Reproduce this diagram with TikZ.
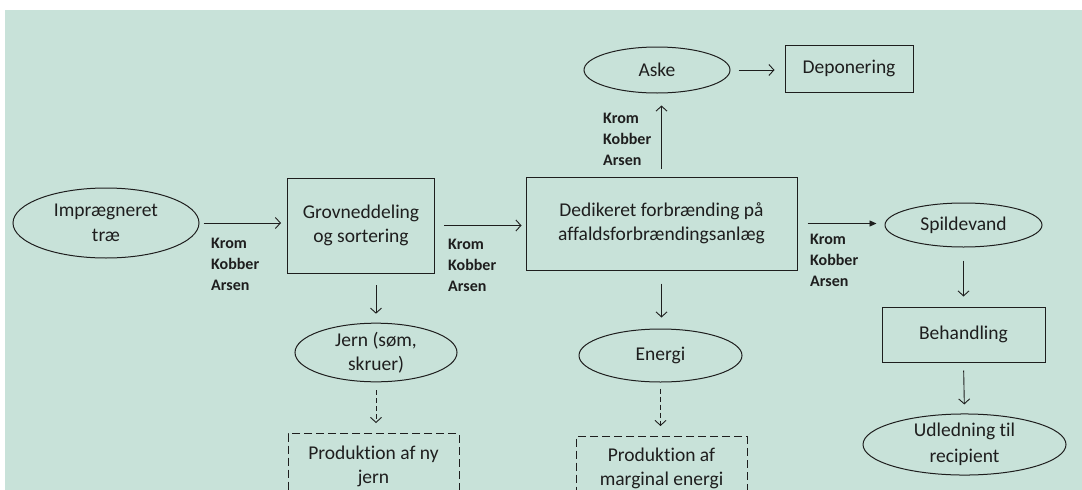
\documentclass[tikz,border=0pt]{standalone}
\usepackage{fontspec}
\setmainfont{Carlito}[Ligatures=NoCommon]
\usetikzlibrary{shapes.geometric,arrows.meta}
\definecolor{bg}{RGB}{200,226,217}
\definecolor{ink}{RGB}{30,30,30}
\begin{document}
\begin{tikzpicture}[x=1pt,y=-1pt,
  every node/.style={font=\fontsize{19.5}{24.5}\selectfont, align=center, text=ink},
  ell/.style={draw=ink, ellipse, inner sep=0pt, line width=1pt},
  box/.style={draw=ink, rectangle, inner sep=0pt, line width=1pt},
  dbox/.style={box, dash pattern=on 8pt off 4pt},
  lab/.style={font=\fontsize{16}{21}\selectfont\bfseries, align=left, anchor=north west, inner sep=0pt},
  arr/.style={draw=ink, -{Straight Barb[length=5pt,width=11pt]}, line width=0.9pt},
  darr/.style={arr, dash pattern=on 5pt off 3pt},
  farr/.style={draw=ink, -{Triangle[length=7pt,width=6pt]}, line width=0.9pt},
]
\clip (0,0) rectangle (1082,490);
\fill[white] (0,0) rectangle (1082,490);
\fill[bg] (5,10) rectangle (1082,490);

\node[ell, minimum width=186, minimum height=70] (imp) at (106,223) {Imprægneret\\træ};
\node[box, minimum width=147, minimum height=95] (grov) at (361,225.5) {Grovneddeling\\og sortering};
\node[box, minimum width=271, minimum height=93] (ded) at (661.5,223.5) {Dedikeret forbrænding på\\affaldsforbrændingsanlæg};
\node[ell, minimum width=146, minimum height=46] (aske) at (657,70) {Aske};
\node[box, minimum width=128, minimum height=47] (dep) at (849,68.5) {Deponering};
\node[ell, minimum width=157, minimum height=44] (spild) at (963.5,225) {Spildevand};
\node[box, minimum width=163, minimum height=55] (beh) at (963.5,334.5) {Behandling};
\node[ell, minimum width=203, minimum height=55] (udl) at (964.5,444.5) {Udledning til\\[2pt]recipient};
\node[ell, minimum width=162, minimum height=53] (jern) at (376,352.5) {Jern (søm,\\skruer)};
\node[ell, minimum width=163, minimum height=53] (energi) at (660.5,355.5) {Energi};
\node[dbox, minimum width=171, minimum height=66, anchor=north] (prodj) at (373.5,433) {Produktion af ny\\jern};
\node[dbox, minimum width=171, minimum height=64, anchor=north] (prode) at (661.5,436) {Produktion af\\marginal energi};

\node[lab] (l1) at (211,238) {Krom\\Kobber\\Arsen};
\node[lab] (l2) at (448,239) {Krom\\Kobber\\Arsen};
\node[lab] (l3) at (810,234) {Krom\\Kobber\\Arsen};
\node[lab] (l4) at (603,113) {Krom\\Kobber\\Arsen};

\draw[arr, shorten <=4pt, shorten >=6pt] (imp.east) -- (imp.east -| grov.west);
\draw[arr, shorten <=9pt, shorten >=4pt] (grov.east) -- (grov.east -| ded.west);
\draw[farr, shorten <=10pt, shorten >=8pt] (ded.east) -- (ded.east -| spild.west);
\draw[arr, shorten <=8pt, shorten >=12pt] (ded.north) -- (ded.north |- aske.south);
\draw[arr, shorten <=8pt, shorten >=10pt] (aske.east) -- (aske.east -| dep.west);
\draw[arr, shorten <=11.5pt, shorten >=9pt] (jern.north |- grov.south) -- (jern.north);
\draw[darr, shorten <=8pt, shorten >=10pt] (jern.south) -- (jern.south |- prodj.north);
\draw[arr, shorten <=13pt, shorten >=11pt] (ded.south) -- (ded.south |- energi.north);
\draw[darr, shorten <=6pt, shorten >=10pt] (energi.south) -- (energi.south |- prode.north);
\draw[arr, shorten <=13pt, shorten >=10pt] (spild.south) -- (beh.north);
\draw[arr, shorten <=8pt, shorten >=9pt] (beh.south) -- (udl.north);
\end{tikzpicture}
\end{document}
